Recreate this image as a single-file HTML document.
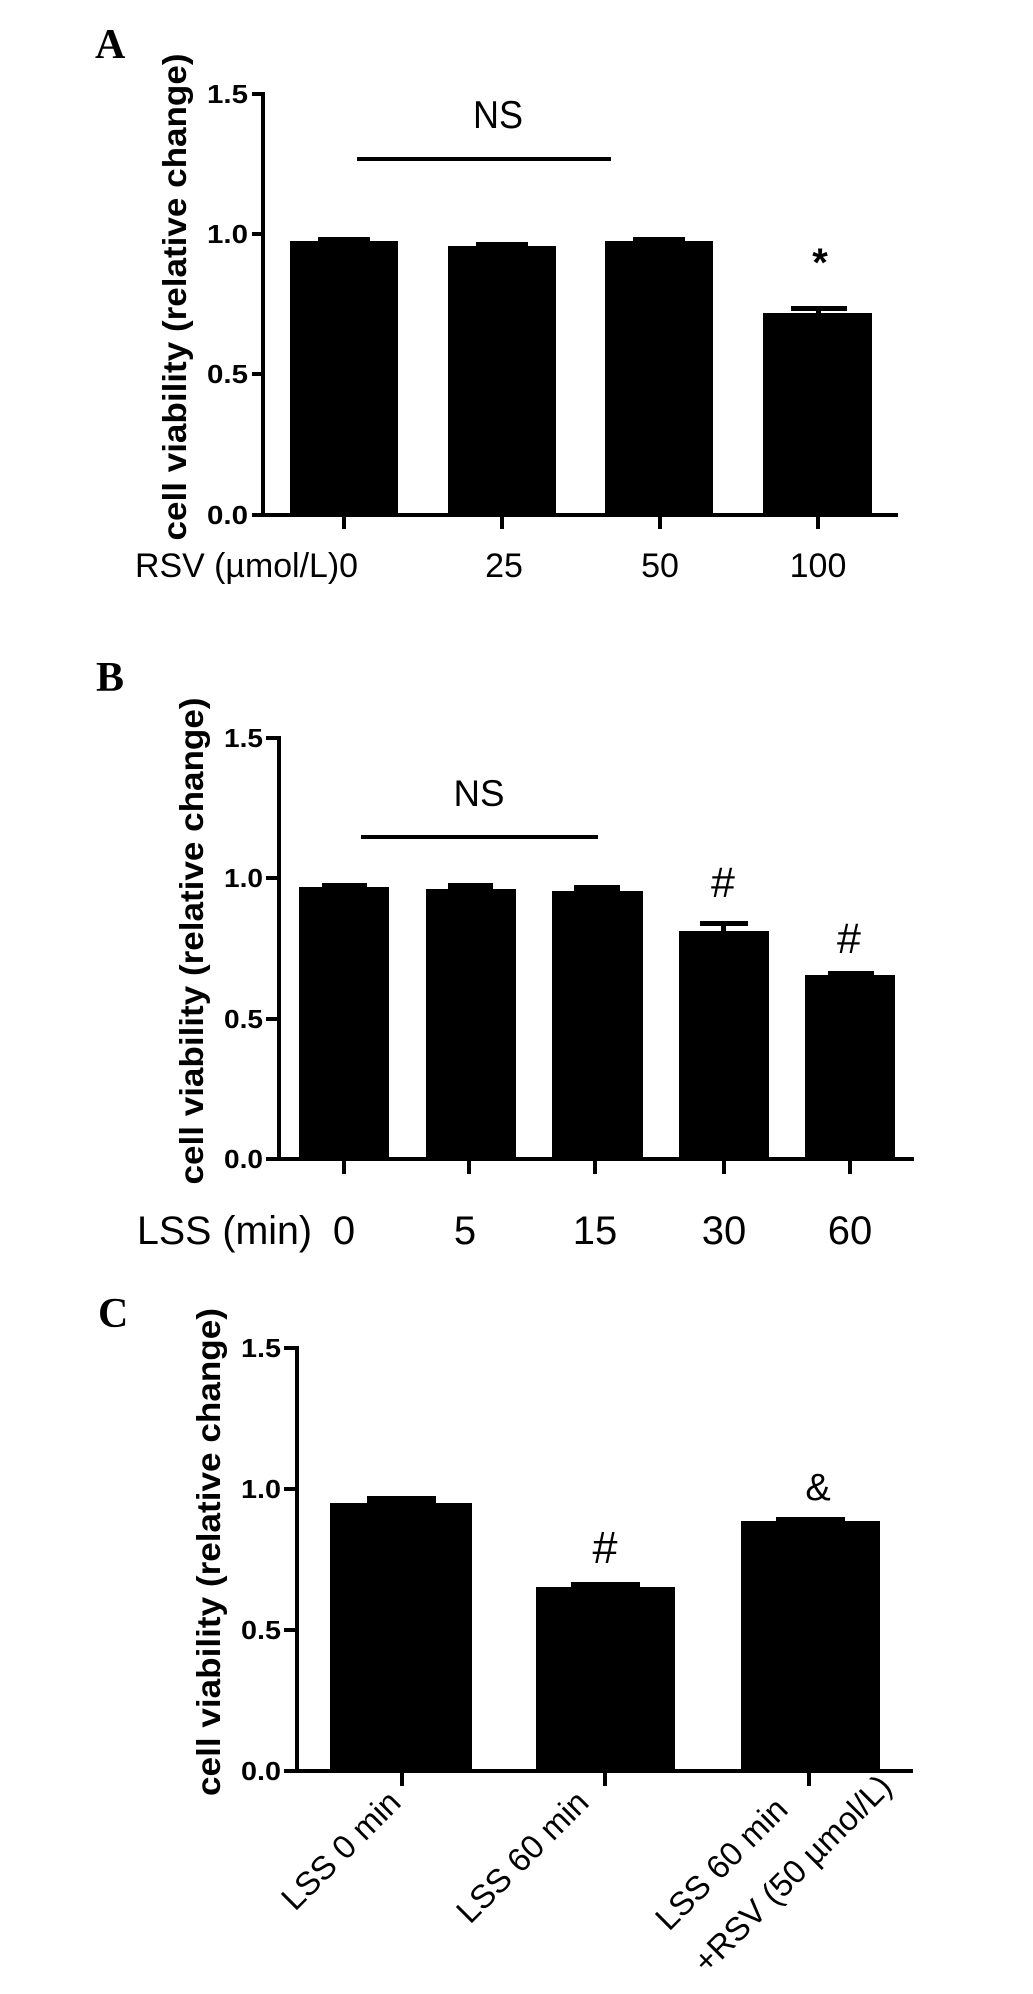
<!DOCTYPE html>
<html><head><meta charset="utf-8"><style>
html,body{margin:0;padding:0;background:#fff;}
svg{display:block;}
text{font-family:"Liberation Sans",Arial,sans-serif;fill:#000;}
.pl{font-family:"Liberation Serif",serif;font-weight:bold;font-size:42px;}
.yl{font-weight:bold;font-size:33px;}
.tk{font-weight:bold;font-size:26px;}
</style></head><body>
<svg width="1033" height="1994" viewBox="0 0 1033 1994" xmlns="http://www.w3.org/2000/svg">
<rect width="1033" height="1994" fill="#fff"/>

<!-- ===== Panel A ===== -->
<text class="pl" x="95" y="58">A</text>
<text class="yl" transform="translate(186,297) rotate(-90)" text-anchor="middle" textLength="487" lengthAdjust="spacingAndGlyphs">cell viability (relative change)</text>
<g stroke="#000" stroke-width="4" fill="none">
  <line x1="263" y1="92" x2="263" y2="516"/>
  <line x1="261" y1="515" x2="898" y2="515"/>
  <line x1="252" y1="94" x2="263" y2="94"/>
  <line x1="252" y1="234" x2="263" y2="234"/>
  <line x1="252" y1="374" x2="263" y2="374"/>
  <line x1="252" y1="515" x2="263" y2="515"/>
  <line x1="344" y1="515" x2="344" y2="529"/>
  <line x1="502" y1="515" x2="502" y2="529"/>
  <line x1="660" y1="515" x2="660" y2="529"/>
  <line x1="818" y1="515" x2="818" y2="529"/>
  <line x1="357" y1="159" x2="611" y2="159"/>
</g>
<g class="tk" text-anchor="end">
  <text class="tk" x="248" y="103" textLength="41" lengthAdjust="spacingAndGlyphs">1.5</text>
  <text class="tk" x="248" y="243" textLength="41" lengthAdjust="spacingAndGlyphs">1.0</text>
  <text class="tk" x="248" y="383" textLength="41" lengthAdjust="spacingAndGlyphs">0.5</text>
  <text class="tk" x="248" y="524" textLength="41" lengthAdjust="spacingAndGlyphs">0.0</text>
</g>
<g fill="#000">
  <rect x="290" y="241" width="108" height="274"/><rect x="318" y="237" width="52" height="5"/>
  <rect x="448" y="246" width="108" height="269"/><rect x="476" y="242" width="52" height="5"/>
  <rect x="605" y="241" width="108" height="274"/><rect x="633" y="237" width="52" height="5"/>
  <rect x="763" y="313" width="109" height="202"/><rect x="791" y="306" width="56" height="5"/><rect x="816" y="306" width="5" height="8"/>
</g>
<text x="498" y="128" font-size="39" text-anchor="middle" textLength="50" lengthAdjust="spacingAndGlyphs">NS</text>
<text x="820" y="276" font-size="40" font-weight="bold" text-anchor="middle">*</text>
<g font-size="34">
  <text x="135" y="577" textLength="223" lengthAdjust="spacingAndGlyphs">RSV (µmol/L)0</text>
  <text x="504" y="577" text-anchor="middle">25</text>
  <text x="660" y="577" text-anchor="middle">50</text>
  <text x="818" y="577" text-anchor="middle">100</text>
</g>

<!-- ===== Panel B ===== -->
<text class="pl" x="96" y="691">B</text>
<text class="yl" transform="translate(203,941) rotate(-90)" text-anchor="middle" textLength="487" lengthAdjust="spacingAndGlyphs">cell viability (relative change)</text>
<g stroke="#000" stroke-width="4" fill="none">
  <line x1="279" y1="736" x2="279" y2="1161"/>
  <line x1="277" y1="1159" x2="914" y2="1159"/>
  <line x1="266" y1="738" x2="279" y2="738"/>
  <line x1="266" y1="878" x2="279" y2="878"/>
  <line x1="266" y1="1019" x2="279" y2="1019"/>
  <line x1="266" y1="1159" x2="279" y2="1159"/>
  <line x1="344" y1="1159" x2="344" y2="1174"/>
  <line x1="469" y1="1159" x2="469" y2="1174"/>
  <line x1="595" y1="1159" x2="595" y2="1174"/>
  <line x1="724" y1="1159" x2="724" y2="1174"/>
  <line x1="850" y1="1159" x2="850" y2="1174"/>
  <line x1="361" y1="837" x2="598" y2="837"/>
</g>
<g text-anchor="end">
  <text class="tk" x="263" y="747" textLength="39" lengthAdjust="spacingAndGlyphs">1.5</text>
  <text class="tk" x="263" y="887" textLength="39" lengthAdjust="spacingAndGlyphs">1.0</text>
  <text class="tk" x="263" y="1028" textLength="39" lengthAdjust="spacingAndGlyphs">0.5</text>
  <text class="tk" x="263" y="1168" textLength="39" lengthAdjust="spacingAndGlyphs">0.0</text>
</g>
<g fill="#000">
  <rect x="299" y="887" width="90" height="272"/><rect x="322" y="883" width="45" height="5"/>
  <rect x="426" y="889" width="90" height="270"/><rect x="448" y="883" width="45" height="7"/>
  <rect x="552" y="891" width="91" height="268"/><rect x="574" y="885" width="46" height="7"/>
  <rect x="679" y="931" width="90" height="228"/><rect x="700" y="921" width="48" height="5"/><rect x="721" y="921" width="5" height="11"/>
  <rect x="805" y="975" width="90" height="184"/><rect x="828" y="971" width="46" height="5"/>
</g>
<text x="479" y="806" font-size="37" text-anchor="middle" textLength="51" lengthAdjust="spacingAndGlyphs">NS</text>
<text x="723" y="897" font-size="43" text-anchor="middle">#</text>
<text x="849" y="953" font-size="43" text-anchor="middle">#</text>
<g font-size="40">
  <text x="137" y="1244" textLength="175" lengthAdjust="spacingAndGlyphs">LSS (min)</text>
  <text x="344" y="1244" text-anchor="middle">0</text>
  <text x="465" y="1244" text-anchor="middle">5</text>
  <text x="595" y="1244" text-anchor="middle">15</text>
  <text x="724" y="1244" text-anchor="middle">30</text>
  <text x="850" y="1244" text-anchor="middle">60</text>
</g>

<!-- ===== Panel C ===== -->
<text class="pl" x="98" y="1327">C</text>
<text class="yl" transform="translate(220,1552) rotate(-90)" text-anchor="middle" textLength="488" lengthAdjust="spacingAndGlyphs">cell viability (relative change)</text>
<g stroke="#000" stroke-width="4" fill="none">
  <line x1="297" y1="1346" x2="297" y2="1773"/>
  <line x1="295" y1="1771" x2="913" y2="1771"/>
  <line x1="284" y1="1348" x2="297" y2="1348"/>
  <line x1="284" y1="1489" x2="297" y2="1489"/>
  <line x1="284" y1="1630" x2="297" y2="1630"/>
  <line x1="284" y1="1771" x2="297" y2="1771"/>
  <line x1="402" y1="1771" x2="402" y2="1786"/>
  <line x1="605" y1="1771" x2="605" y2="1786"/>
  <line x1="809" y1="1771" x2="809" y2="1786"/>
</g>
<g text-anchor="end">
  <text class="tk" x="281" y="1357" textLength="40" lengthAdjust="spacingAndGlyphs">1.5</text>
  <text class="tk" x="281" y="1498" textLength="40" lengthAdjust="spacingAndGlyphs">1.0</text>
  <text class="tk" x="281" y="1639" textLength="40" lengthAdjust="spacingAndGlyphs">0.5</text>
  <text class="tk" x="281" y="1780" textLength="40" lengthAdjust="spacingAndGlyphs">0.0</text>
</g>
<g fill="#000">
  <rect x="330" y="1503" width="142" height="268"/><rect x="367" y="1496" width="69" height="8"/>
  <rect x="536" y="1587" width="139" height="184"/><rect x="571" y="1582" width="69" height="6"/>
  <rect x="741" y="1521" width="139" height="250"/><rect x="776" y="1517" width="69" height="5"/>
</g>
<text x="605" y="1563" font-size="45" text-anchor="middle">#</text>
<text x="818" y="1500" font-size="38" text-anchor="middle">&amp;</text>
<g font-size="33">
  <text transform="translate(295,1912) rotate(-45)">LSS 0 min</text>
  <text transform="translate(470,1925) rotate(-45)">LSS 60 min</text>
  <text transform="translate(669,1932) rotate(-45)">LSS 60 min</text>
  <text transform="translate(707,1975) rotate(-45)">+RSV (50 µmol/L)</text>
</g>
</svg>
</body></html>
